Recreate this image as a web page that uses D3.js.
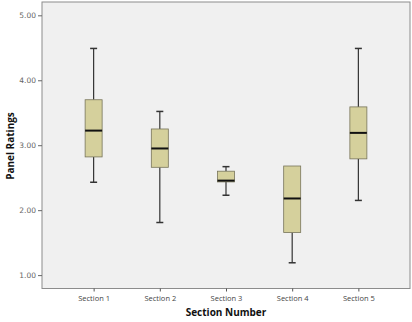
<!DOCTYPE html>
<html><head><meta charset="utf-8">
<script src="https://cdn.jsdelivr.net/npm/d3@7"></script>
<style>body{margin:0;background:#fff}svg{display:block}</style>
</head><body><svg id="c" width="412" height="322"></svg>
<script>
const categories = ["Section 1","Section 2","Section 3","Section 4","Section 5"];
const whiskerLow  = [2.43, 1.81, 2.23, 1.19, 2.15];
const q1          = [2.82, 2.66, 2.435, 1.655, 2.79];
const median      = [3.225, 2.95, 2.455, 2.18, 3.19];
const q3          = [3.70, 3.25, 2.60, 2.68, 3.59];
const whiskerHigh = [4.49, 3.52, 2.67, 2.68, 4.49];
const yTicks = [1, 2, 3, 4, 5];

const svg = d3.select("#c");
const L = 42, R = 410, T = 2, B = 288.5;
const x = d3.scalePoint().domain(categories).range([L, R]).padding(0.78);
const y = d3.scaleLinear().domain([0.794, 5.205]).range([B, T]);

svg.append("rect").attr("x", L).attr("y", T).attr("width", R - L).attr("height", B - T)
  .attr("fill", "#f0f0f0").attr("stroke", "#8c8c8c").attr("stroke-width", 1);

const yAxis = svg.append("g").attr("transform", `translate(${L},0)`)
  .call(d3.axisLeft(y).tickValues(yTicks).tickSize(4).tickPadding(2).tickFormat(d3.format(".2f")));
yAxis.select(".domain").remove();
yAxis.selectAll("line").attr("stroke", "#666");
yAxis.selectAll("text").attr("fill", "#666").style("font-family", "'DejaVu Sans', sans-serif").style("font-size", "7.5px");

const xAxis = svg.append("g").attr("transform", `translate(0,${B})`)
  .call(d3.axisBottom(x).tickSize(3).tickPadding(4));
xAxis.select(".domain").remove();
xAxis.selectAll("line").attr("stroke", "#555");
xAxis.selectAll("text").attr("fill", "#444").style("font-family", "'Open Sans', sans-serif").style("font-size", "7.5px");

const bw = 17, cap = 7;
const data = categories.map((c, i) => ({c, lo: whiskerLow[i], q1: q1[i], med: median[i], q3: q3[i], hi: whiskerHigh[i]}));
const g = svg.append("g").selectAll("g").data(data).join("g");
g.append("line").attr("x1", d => x(d.c)).attr("x2", d => x(d.c))
  .attr("y1", d => y(d.hi)).attr("y2", d => y(d.q3)).attr("stroke", "#333").attr("stroke-width", 1.2);
g.append("line").attr("x1", d => x(d.c)).attr("x2", d => x(d.c))
  .attr("y1", d => y(d.q1)).attr("y2", d => y(d.lo)).attr("stroke", "#333").attr("stroke-width", 1.2);
g.filter(d => d.hi > d.q3).append("line").attr("x1", d => x(d.c) - cap / 2).attr("x2", d => x(d.c) + cap / 2)
  .attr("y1", d => y(d.hi)).attr("y2", d => y(d.hi)).attr("stroke", "#333").attr("stroke-width", 1.5);
g.append("line").attr("x1", d => x(d.c) - cap / 2).attr("x2", d => x(d.c) + cap / 2)
  .attr("y1", d => y(d.lo)).attr("y2", d => y(d.lo)).attr("stroke", "#333").attr("stroke-width", 1.5);
g.append("rect").attr("x", d => x(d.c) - bw / 2).attr("width", bw)
  .attr("y", d => y(d.q3)).attr("height", d => y(d.q1) - y(d.q3))
  .attr("fill", "#d5d09c").attr("stroke", "#77745a").attr("stroke-width", 0.8);
g.append("line").attr("x1", d => x(d.c) - bw / 2).attr("x2", d => x(d.c) + bw / 2)
  .attr("y1", d => y(d.med)).attr("y2", d => y(d.med)).attr("stroke", "#111").attr("stroke-width", 2);

svg.append("text").attr("x", 226).attr("y", 316).attr("text-anchor", "middle")
  .style("font-family", "'Open Sans', sans-serif").style("font-weight", "bold").style("font-size", "10px")
  .attr("fill", "#111").text("Section Number");
svg.append("text").attr("transform", "translate(14,146) rotate(-90)").attr("text-anchor", "middle")
  .style("font-family", "'Open Sans', sans-serif").style("font-weight", "bold").style("font-size", "10px")
  .attr("fill", "#111").text("Panel Ratings");
</script></body></html>
